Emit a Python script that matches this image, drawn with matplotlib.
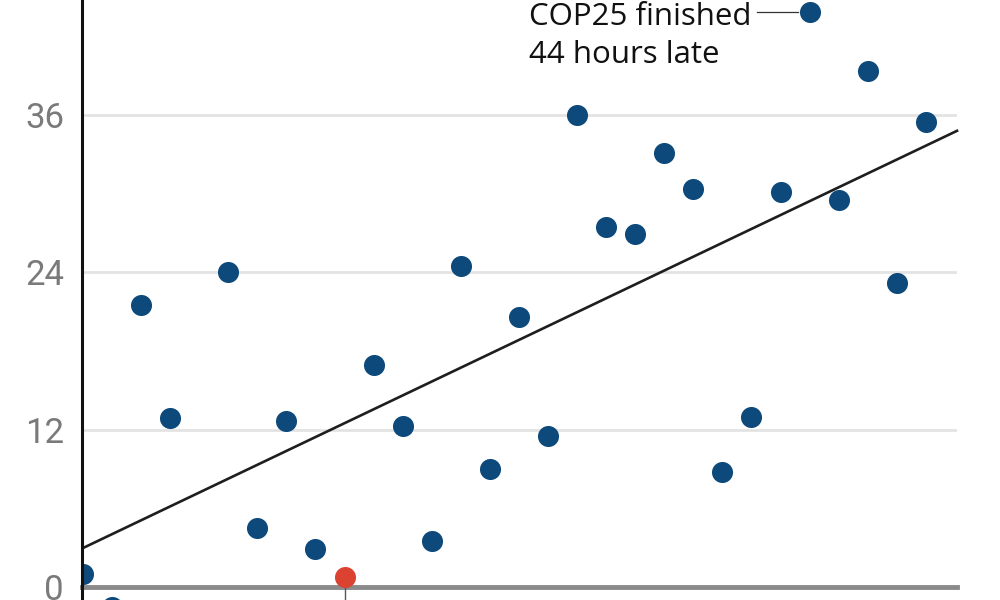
import matplotlib.pyplot as plt

# Hours each COP finished late, by conference index (None = no value drawn)
cop_index = list(range(30))
hours_late = [1.0, -1.5, 21.5, 12.9, None, 24.0, 4.5, 12.7, 2.9, 0.8,
              16.9, 12.3, 3.5, 24.5, 9.0, 20.6, 11.5, 36.0, 27.5, 26.9,
              33.1, 30.4, 8.8, 13.0, 30.1, 43.9, 29.5, 39.4, 23.2, 35.5]
highlight_index = 9
trend_x = [0, 30.07]
trend_y = [2.97, 34.8]
y_ticks = [0, 12, 24, 36]

blue = '#0d4a7b'
red = '#dc4232'

fig = plt.figure(figsize=(10, 6), dpi=100)
ax = fig.add_axes([0.082, 0.0, 0.875, 1.0])
ax.set_xlim(-0.03, 30.07)
ax.set_ylim(-0.99, 44.78)

# grid lines
for t in y_ticks[1:]:
    ax.axhline(t, color='#e3e3e3', lw=2, zorder=0)
ax.axhline(0, color='#8a8a8a', lw=3.5, zorder=1, clip_on=False)

# trend line
ax.plot(trend_x, trend_y, color='#1e1e1e', lw=1.9, zorder=2, clip_on=False)

xs = [x for x, v in zip(cop_index, hours_late) if v is not None and x != highlight_index]
ys = [v for x, v in zip(cop_index, hours_late) if v is not None and x != highlight_index]
ax.scatter(xs, ys, s=230, color=blue, zorder=3, linewidths=0)

# highlighted point with leader line
hx, hy = highlight_index, hours_late[highlight_index]
ax.plot([hx, hx], [hy, -2], color='#555555', lw=1, zorder=2)
ax.scatter([hx], [hy], s=230, color=red, zorder=4, linewidths=0)

# annotation for the latest COP
ax.text(15.34, 42.87, 'COP25 finished', fontsize=22.5, family='Open Sans',
        color='#111111', va='baseline', ha='left')
ax.text(15.34, 39.97, '44 hours late', fontsize=22.5, family='Open Sans',
        color='#111111', va='baseline', ha='left')
ax.plot([23.2, 24.6], [43.9, 43.9], color='#333333', lw=0.9, zorder=2)

ax.set_yticks(y_ticks)
ax.set_yticklabels([str(t) for t in y_ticks], fontsize=25, family='Roboto', color='#7a7a7a')
ax.tick_params(axis='y', length=0, pad=13)
ax.set_xticks([])

for s in ['top', 'right', 'bottom']:
    ax.spines[s].set_visible(False)
ax.spines['left'].set_linewidth(2.2)
ax.spines['left'].set_color('#111111')
ax.spines['left'].set_zorder(5)

fig.savefig('out.png', dpi=100)
